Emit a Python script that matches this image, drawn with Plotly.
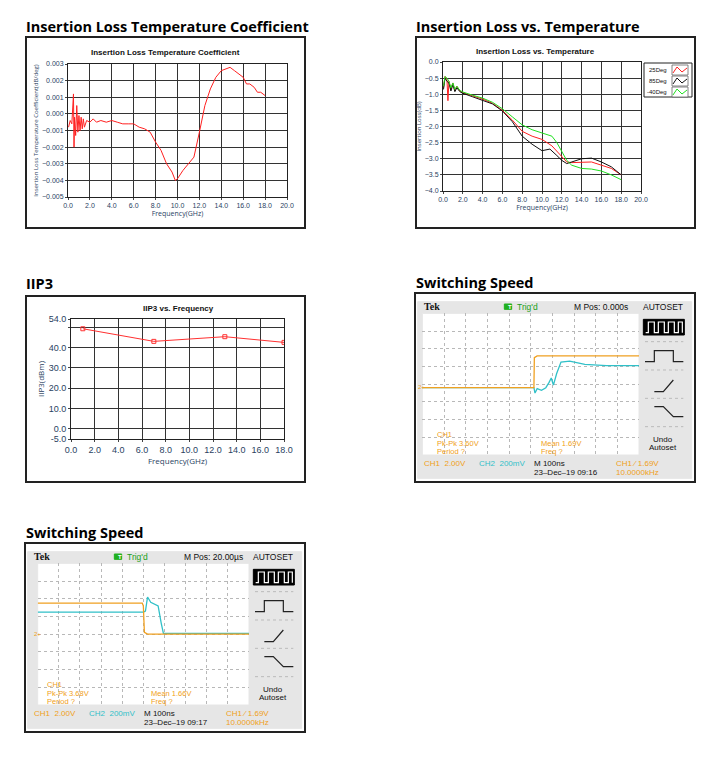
import plotly.graph_objects as go

W, H = 726, 764
PAD = 8  # page body margin of the html page

# ---- data ----
tc_points = [(0.05, -0.0008), (0.2, -0.0004), (0.35, -0.0006), (0.5, 0.0012), (0.55, -0.002),
             (0.6, -0.0002), (0.7, -0.0013), (0.8, 0.0005), (0.9, -0.0011), (1.0, -0.0001),
             (1.1, -0.001), (1.2, -0.0002), (1.3, -0.0009), (1.4, -0.0003), (1.5, -0.0008),
             (1.7, -0.0004), (2.0, -0.0005), (2.3, -0.0003), (2.6, -0.0005), (3.0, -0.0004),
             (3.5, -0.0005), (4.0, -0.0004), (4.5, -0.0005), (5.0, -0.0006), (5.5, -0.0006),
             (6.0, -0.0006), (6.5, -0.0008), (7.0, -0.0009), (7.5, -0.0011), (8.0, -0.0017),
             (8.5, -0.0022), (9.0, -0.003), (9.5, -0.0035), (9.8, -0.004), (10.0, -0.0039),
             (10.5, -0.0034), (11.0, -0.003), (11.5, -0.0026), (12.0, -0.0011), (12.5, 0.0005),
             (13.0, 0.0015), (13.5, 0.0022), (14.0, 0.0026), (14.5, 0.0027), (14.8, 0.0028),
             (15.2, 0.0026), (15.6, 0.0024), (16.0, 0.0022), (16.3, 0.0018), (16.6, 0.0018),
             (17.0, 0.0016), (17.3, 0.0013), (17.6, 0.0013), (18.0, 0.0011)]

il_25 = [(0.05, -0.8), (0.2, -0.45), (0.4, -0.55), (0.5, -1.2), (0.6, -0.6), (0.8, -0.85),
         (1.0, -0.65), (1.2, -0.9), (1.4, -0.75), (1.7, -0.9), (2.0, -0.95), (3.0, -1.05),
         (4.0, -1.15), (5.0, -1.28), (6.0, -1.5), (7.0, -1.8), (8.0, -2.15), (9.0, -2.3),
         (10.0, -2.4), (11.0, -2.6), (12.0, -2.95), (12.5, -3.1), (13.0, -3.12), (14.0, -3.1),
         (15.0, -3.1), (16.0, -3.2), (17.0, -3.3), (18.0, -3.5)]
il_85 = [(0.05, -0.85), (0.2, -0.5), (0.4, -0.6), (0.6, -0.65), (0.8, -0.9), (1.0, -0.7),
         (1.2, -0.92), (1.4, -0.8), (1.7, -0.92), (2.0, -0.97), (3.0, -1.08), (4.0, -1.2),
         (5.0, -1.3), (6.0, -1.52), (7.0, -1.85), (8.0, -2.3), (9.0, -2.55), (10.0, -2.75),
         (10.8, -2.7), (11.5, -2.9), (12.0, -3.05), (12.5, -3.15), (13.0, -3.1), (14.0, -3.0),
         (15.0, -2.98), (16.0, -3.1), (17.0, -3.25), (18.0, -3.5)]
il_m40 = [(0.05, -0.75), (0.2, -0.45), (0.4, -0.5), (0.6, -0.6), (0.8, -0.8), (1.0, -0.65),
          (1.2, -0.85), (1.4, -0.75), (1.7, -0.88), (2.0, -0.93), (3.0, -1.03), (4.0, -1.12),
          (5.0, -1.25), (6.0, -1.45), (7.0, -1.7), (8.0, -1.95), (9.0, -2.1), (10.0, -2.2),
          (11.0, -2.3), (11.5, -2.5), (12.0, -2.8), (12.5, -3.05), (13.0, -3.2), (14.0, -3.3),
          (15.0, -3.32), (16.0, -3.38), (17.0, -3.5), (18.0, -3.65)]

iip3_freq = [1, 7, 13, 18]
iip3_dbm = [49.2, 43.0, 45.3, 42.5]

# scope traces, in divisions (x 0..10, y 0..8)
s1_ch1 = [(0, 3.8), (5.15, 3.8), (5.17, 5.5), (5.3, 5.6), (10, 5.6)]
s1_ch2 = [(0, 3.8), (5.15, 3.8), (5.2, 3.5), (5.3, 3.75), (5.5, 3.65), (5.7, 3.8), (5.85, 4.1),
          (5.95, 4.35), (6.05, 3.95), (6.2, 4.6), (6.4, 5.25), (6.8, 5.3), (7.5, 5.12),
          (8.5, 5.05), (10, 5.05)]
s2_ch1 = [(0, 5.75), (4.95, 5.75), (5.0, 5.6), (5.05, 4.1), (5.2, 4.0), (10, 4.0)]
s2_ch2 = [(0, 5.24), (5.0, 5.24), (5.1, 5.3), (5.2, 6.1), (5.35, 5.8), (5.7, 5.6),
          (5.85, 4.6), (5.95, 4.05), (10, 4.05)]

ORANGE = "#f0a020"
CYAN = "#30c0c8"
FW, FH = W - 2 * PAD, H - 2 * PAD


def px(x):
    return (x - PAD) / FW


def py(y):
    return 1 - (y - PAD) / FH


fig = go.Figure()
shapes = []
ann = []


def box(x0, y0, x1, y1, color="#222", width=2, fill=None):
    shapes.append(dict(type="rect", xref="paper", yref="paper", x0=px(x0), x1=px(x1),
                       y0=py(y1), y1=py(y0), line=dict(color=color, width=width),
                       fillcolor=fill, layer="below"))


def text(x, y, s, size=8, color="#111", bold=False, anchor="left", family="Liberation Sans"):
    if bold:
        s = "<b>" + s + "</b>"
    ann.append(dict(x=px(x), y=py(y), xref="paper", yref="paper", text=s, showarrow=False,
                    xanchor=anchor, yanchor="middle", font=dict(size=size, color=color, family=family)))


def chart_axes(i, x0, y0, x1, y1):
    sfx = "" if i == 1 else str(i)
    common = dict(showline=True, linecolor="#222", mirror=True, showgrid=True, gridcolor="#333",
                  gridwidth=0.8, zeroline=False, ticks="outside", ticklen=2, automargin=False,
                  tickfont=dict(size=7, family="Liberation Sans"))
    fig.layout["xaxis" + sfx] = dict(domain=[px(x0), px(x1)], anchor="y" + sfx, **common)
    fig.layout["yaxis" + sfx] = dict(domain=[py(y1), py(y0)], anchor="x" + sfx, **common)


# ---- headings ----
text(24, 27, "Insertion Loss Temperature Coefficient", 14.5, "#000", True, family="Open Sans")
text(414, 27, "Insertion Loss vs. Temperature", 14.5, "#000", True, family="Open Sans")
text(24, 283, "IIP3", 14.5, "#000", True, family="Open Sans")
text(414, 282, "Switching Speed", 14.5, "#000", True, family="Open Sans")
text(24, 532, "Switching Speed", 14.5, "#000", True, family="Open Sans")

# ---- panel 1 ----
box(26, 37, 305, 228)
chart_axes(1, 68, 64, 287, 197)
text(165, 52, "Insertion Loss Temperature Coefficient", 8, bold=True, anchor="center")
fig.add_trace(go.Scatter(x=[p[0] for p in tc_points], y=[p[1] for p in tc_points], mode="lines",
                         line=dict(color="#ff2020", width=1), showlegend=False, xaxis="x", yaxis="y"))
fig.layout.xaxis.update(range=[0, 20], tickvals=list(range(0, 21, 2)),
                        ticktext=["%.1f" % v for v in range(0, 21, 2)],
                        title=dict(text="Frequency(GHz)", font=dict(size=7), standoff=2))
fig.layout.yaxis.update(range=[-0.005, 0.003], dtick=0.001, tickformat=".3f",
                        title=dict(text="Insertion Loss Temperature Coefficient(dB/deg)",
                                   font=dict(size=6), standoff=2))

# ---- panel 2 ----
box(416, 37, 695, 228)
chart_axes(2, 443, 62, 641, 191)
text(535, 51, "Insertion Loss vs. Temperature", 8, bold=True, anchor="center")
legend_items = [("25Deg", il_25, "#ff2020"), ("85Deg", il_85, "#111"), ("-40Deg", il_m40, "#20e020")]
for name, pts, col in legend_items:
    fig.add_trace(go.Scatter(x=[p[0] for p in pts], y=[p[1] for p in pts], mode="lines", name=name,
                             line=dict(color=col, width=1), showlegend=False, xaxis="x2", yaxis="y2"))
fig.layout.xaxis2.update(range=[0, 20], tickvals=list(range(0, 21, 2)),
                         ticktext=["%.1f" % v for v in range(0, 21, 2)],
                         title=dict(text="Frequency(GHz)", font=dict(size=7), standoff=2))
fig.layout.yaxis2.update(range=[-4, 0], dtick=0.5, tickformat=".1f",
                         title=dict(text="Insertion Loss(dB)", font=dict(size=6), standoff=2))
# legend box drawn like the LabVIEW one: label left, sample right
box(644, 63, 692, 97, color="#222", width=1, fill="white")
for k, (name, pts, col) in enumerate(legend_items):
    yy = 70 + k * 11
    text(669, yy, name, 6, anchor="right")
    box(672, yy - 5, 688, yy + 5, color="#666", width=0.8, fill="white")
    shapes.append(dict(type="path", xref="paper", yref="paper", line=dict(color=col, width=1),
                       path="M %f,%f L %f,%f L %f,%f L %f,%f" % (
                           px(673), py(yy + 3), px(677), py(yy - 3), px(682), py(yy + 2), px(687), py(yy - 2))))

# ---- panel 3 ----
box(26, 296, 305, 482)
chart_axes(3, 71, 319, 284, 439)
text(178, 308, "IIP3 vs. Frequency", 8, bold=True, anchor="center")
fig.add_trace(go.Scatter(x=iip3_freq, y=iip3_dbm, mode="lines+markers",
                         line=dict(color="#ff3030", width=1),
                         marker=dict(symbol="square-open", size=4, color="#ff3030"),
                         showlegend=False, xaxis="x3", yaxis="y3"))
fig.layout.xaxis3.update(range=[0, 18], tickvals=list(range(0, 19, 2)),
                         ticktext=["%.1f" % v for v in range(0, 19, 2)],
                         title=dict(text="Frequency(GHz)", font=dict(size=8), standoff=2),
                         tickfont=dict(size=9))
fig.layout.yaxis3.update(range=[-5, 54], tickvals=[-5, 0, 10, 20, 30, 40, 50, 54],
                         ticktext=["-5.0", "0.0", "10.0", "20.0", "30.0", "40.0", "", "54.0"],
                         title=dict(text="IIP3(dBm)", font=dict(size=8), standoff=2),
                         tickfont=dict(size=9))


# ---- scope panels ----
def scope(i, ox, oy, gx0, ch1, ch2, mpos, pk, mean, stamp):
    z = lambda a: a / 3.0
    box(ox, oy + 3, ox + 280, oy + 192)
    box(ox + z(8), oy + z(35), ox + z(830), oy + z(565), color="#e6e6e6", width=1, fill="#e6e6e6")
    gx1, gy0, gy1 = ox + z(672), oy + z(70), oy + z(495)
    box(ox + z(gx0), gy0, gx1, gy1, color="#e6e6e6", width=1, fill="white")
    sfx = str(i)
    ax = dict(showline=False, showgrid=True, gridcolor="#b8b8b8", griddash="dot", gridwidth=1,
              zeroline=False, showticklabels=False, ticks="", automargin=False)
    fig.layout["xaxis" + sfx] = dict(domain=[px(ox + z(gx0)), px(gx1)], anchor="y" + sfx,
                                     range=[0, 10], dtick=1, **ax)
    fig.layout["yaxis" + sfx] = dict(domain=[py(gy1), py(gy0)], anchor="x" + sfx,
                                     range=[0, 8], dtick=1, **ax)
    for pts, col in [(ch2, CYAN), (ch1, ORANGE)]:
        fig.add_trace(go.Scatter(x=[p[0] for p in pts], y=[p[1] for p in pts], mode="lines",
                                 line=dict(color=col, width=1.3), showlegend=False,
                                 xaxis="x" + sfx, yaxis="y" + sfx))
    t = lambda x, y, s, **k: text(ox + z(x), oy + z(y), s, **k)
    t(20, 50, "Tek", size=10, bold=True, family="Liberation Serif")
    box(ox + z(268), oy + z(42), ox + z(290), oy + z(58), color="#20b020", width=1, fill="#20b020")
    t(272, 50, "T", size=6, color="white", bold=True)
    t(300, 50, "Trig'd", size=8.5, color="#20a020")
    t(470, 50, mpos, size=8.5)
    t(745, 50, "AUTOSET", size=8.5, anchor="center")
    t(60, 434, "CH1", size=7.5, color=ORANGE)
    t(60, 459, "Pk-Pk " + pk, size=7.5, color=ORANGE)
    t(60, 484, "Period ?", size=7.5, color=ORANGE)
    t(372, 459, "Mean " + mean, size=7.5, color=ORANGE)
    t(372, 484, "Freq ?", size=7.5, color=ORANGE)
    t(20, 520, "CH1  2.00V", size=8, color=ORANGE)
    t(185, 520, "CH2  200mV", size=8, color=CYAN)
    t(352, 520, "M 100ns", size=8)
    t(352, 546, stamp, size=8)
    t(596, 520, "CH1 ⁄ 1.69V", size=8, color=ORANGE)
    t(596, 546, "10.0000kHz", size=8, color=ORANGE)
    t(745, 447, "Undo", size=8, anchor="center")
    t(745, 473, "Autoset", size=8, anchor="center")
    t(gx0 - 18, 290 if i == 4 else 283, "2+", size=6, color=ORANGE)
    # right menu icons
    box(ox + z(685), oy + z(88), ox + z(808), oy + z(135), color="black", width=1, fill="black")
    L = lambda pts, col="#222": shapes.append(dict(
        type="path", xref="paper", yref="paper", line=dict(color=col, width=1.2),
        path="M " + " L ".join("%f,%f" % (px(ox + z(a)), py(oy + z(b))) for a, b in pts)))
    L([(692, 128), (700, 128), (700, 96), (718, 96), (718, 128), (730, 128), (730, 96), (748, 96),
       (748, 128), (760, 128), (760, 96), (778, 96), (778, 128), (790, 128), (790, 96), (802, 96), (802, 128)],
      "white")
    L([(690, 215), (718, 215), (718, 182), (775, 182), (775, 215), (805, 215)])
    L([(718, 305), (745, 305), (775, 270)])
    L([(718, 350), (745, 350), (775, 380), (805, 380)])
    for yy in [155, 240, 325, 410]:
        shapes.append(dict(type="line", xref="paper", yref="paper", x0=px(ox + z(690)), x1=px(ox + z(805)),
                           y0=py(oy + z(yy)), y1=py(oy + z(yy)), line=dict(color="#bbb", width=1, dash="dot")))


scope(4, 415, 290, 22, s1_ch1, s1_ch2, "M Pos: 0.000s", "3.60V", "1.69V", "23–Dec–19 09:16")
scope(5, 25, 540, 38, s2_ch1, s2_ch2, "M Pos: 20.00µs", "3.68V", "1.66V", "23–Dec–19 09:17")

fig.update_layout(width=FW, height=FH, margin=dict(l=0, r=0, t=0, b=0, autoexpand=False),
                  paper_bgcolor="white", plot_bgcolor="rgba(0,0,0,0)",
                  shapes=shapes, annotations=ann, showlegend=False)
fig.write_html("out.html")
